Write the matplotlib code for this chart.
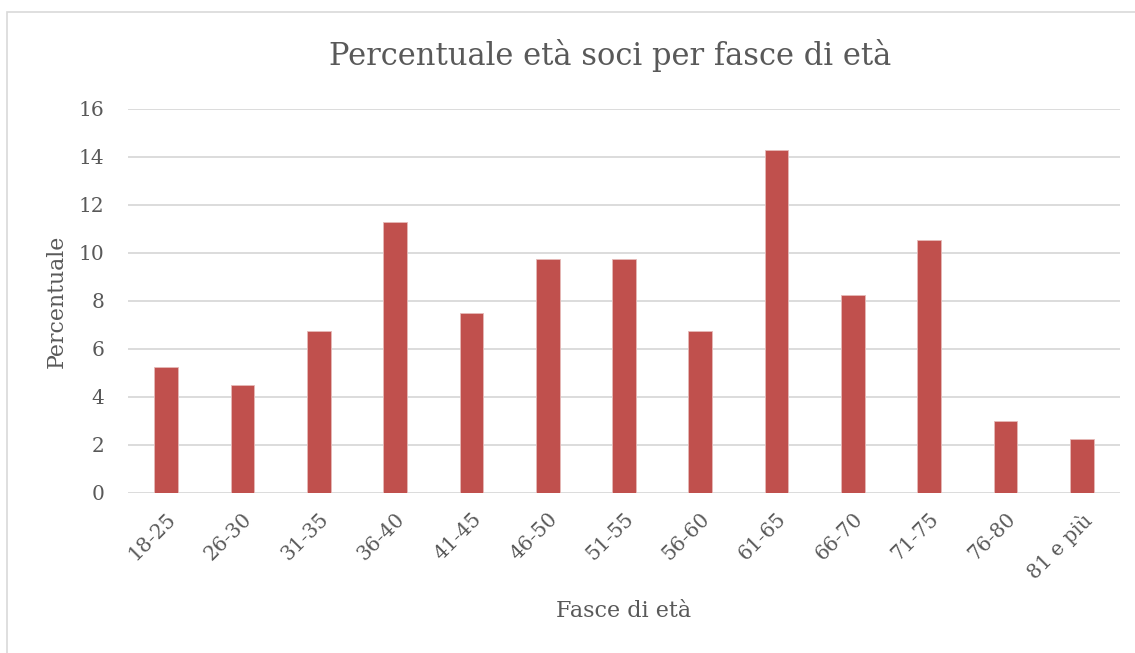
import matplotlib.pyplot as plt
from matplotlib.patches import Rectangle

categories = ['18-25', '26-30', '31-35', '36-40', '41-45', '46-50', '51-55',
              '56-60', '61-65', '66-70', '71-75', '76-80', '81 e più']
percent = [5.26, 4.51, 6.77, 11.28, 7.52, 9.77, 9.77, 6.77, 14.29, 8.27, 10.53, 3.01, 2.26]

grey = '#595959'
plt.rcParams['font.family'] = ['DejaVu Serif']

fig = plt.figure(figsize=(11.35, 6.53), dpi=100)
ax = fig.add_axes([128/1135, 1 - 493/653, 992/1135, 384/653])

x = range(len(categories))
ax.bar(x, percent, width=0.31, color='#c0504d', edgecolor='#e6b9b8', linewidth=0.6, zorder=3)

ax.set_xlim(-0.5, 12.5)
ax.set_ylim(0, 16)
ax.set_yticks(range(0, 17, 2))
ax.set_xticks(list(x))
ax.set_xticklabels(categories, rotation=45, ha='right', rotation_mode='anchor')
ax.tick_params(axis='both', length=0, labelsize=14.5, colors=grey)
ax.tick_params(axis='y', pad=17)
ax.tick_params(axis='x', pad=12)
ax.grid(axis='y', color='#d9d9d9', linewidth=1.3, zorder=0)
for s in ax.spines.values():
    s.set_visible(False)

ax.set_ylabel('Percentuale', fontsize=15.8, color=grey, labelpad=8)
ax.set_xlabel('Fasce di età', fontsize=16, color=grey, labelpad=12)
fig.text(610/1135, 1 - 55/653, 'Percentuale età soci per fasce di età', ha='center', va='center',
         fontsize=22, color=grey)

# cornice esterna
fig.patches.append(Rectangle((7/1135, -0.1), 1.1, 1 - 12/653 + 0.1, transform=fig.transFigure,
                             fill=False, edgecolor='#d9d9d9', linewidth=1.2))

plt.savefig('out.png', dpi=100)
